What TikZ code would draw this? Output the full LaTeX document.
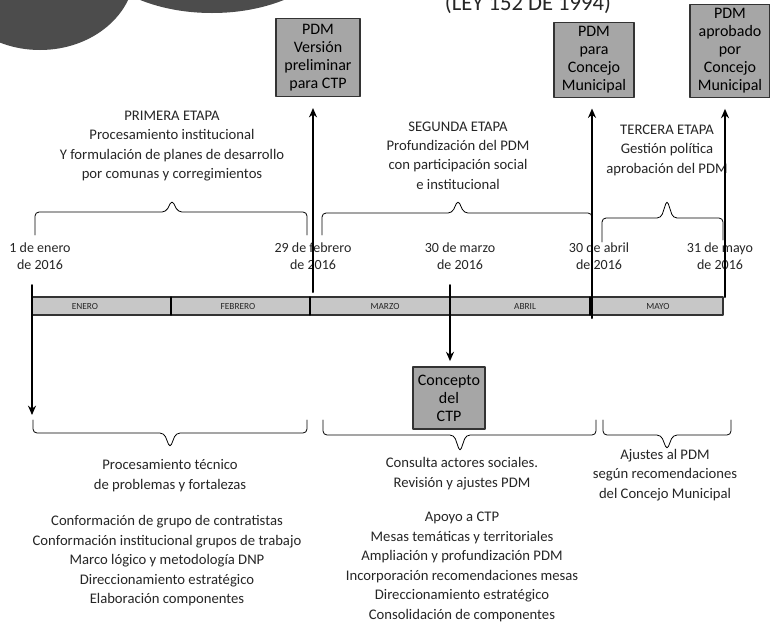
\documentclass[tikz,border=0pt]{standalone}
\usepackage{fontspec}
\setmainfont{Carlito}
\usetikzlibrary{arrows.meta}

\begin{document}
\begin{tikzpicture}[x=0.75pt,y=-0.75pt,>=Stealth,line cap=round,line join=round,
  caja/.style={draw=black!80,fill=black!35,line width=0.8pt,inner sep=0pt,align=center,
    font=\fontsize{12}{13.5}\selectfont},
  etapa/.style={align=center,text=black!85,font=\fontsize{11}{14.6}\selectfont},
  fecha/.style={align=center,text=black!85,font=\fontsize{10.5}{12.75}\selectfont},
  mes/.style={text=black!85,font=\fontsize{7}{8}\selectfont},
  llave/.style={line width=0.6pt,rounded corners=3pt},
  flecha/.style={line width=1.5pt,-{Stealth[length=7pt,width=6pt]}}]
  \useasboundingbox (0,0) rectangle (770,636);
  \clip (0,0) rectangle (770,636);
  \fill[white] (0,0) rectangle (770,636);

  % Manchas oscuras arriba (recortadas)
  \fill[black!70] (40,-30) ellipse [x radius=71.25pt, y radius=60pt];
  \fill[black!70] (212,-60) ellipse [x radius=94.5pt, y radius=54.75pt];
  \node[anchor=base,text=black!85,font=\fontsize{17}{19}\selectfont] (ley) at (528,10) {(LEY 152 DE 1994)};

  % Cajas de productos
  \node[caja,minimum width=63pt,minimum height=59pt] (pdmprelim) at (318,57.5) {PDM\\Versión\\preliminar\\para CTP};
  \node[caja,minimum width=60pt,minimum height=56pt] (pdmconcejo) at (594,60) {PDM\\para\\Concejo\\Municipal};
  \node[caja,minimum width=60pt,minimum height=70pt] (pdmaprob) at (730,51) {PDM\\aprobado\\por\\Concejo\\Municipal};
  \node[caja,minimum width=54pt,minimum height=46.5pt] (concepto) at (449,398) {Concepto\\del\\CTP};

  % Etapas
  \node[etapa] (primera) at (172,146) {PRIMERA ETAPA\\Procesamiento institucional\\Y formulación de planes de desarrollo\\por comunas y corregimientos};
  \node[etapa] (segunda) at (458,155.5) {SEGUNDA ETAPA\\Profundización del PDM\\con participación social\\e institucional};
  \node[etapa] (tercera) at (667,150) {TERCERA ETAPA\\Gestión política\\aprobación del PDM};

  % Llaves superiores
  \draw[llave] (35,235) -- (35,212) -- (166,212) -- (172,200) -- (178,212) -- (307,212) -- (307,235);
  \draw[llave] (322,235) -- (322,213) -- (452,213) -- (458,200) -- (464,213) -- (592,213) -- (592,235);
  \draw[llave] (602,242) -- (602,218) -- (661,218) -- (667,200) -- (673,218) -- (723,218) -- (723,240);

  % Fechas
  \node[fecha] (fene) at (40,256.5) {1 de enero\\de 2016};
  \node[fecha] (ffeb) at (313,256.5) {29 de febrero\\de 2016};
  \node[fecha] (fmar) at (460,256.5) {30 de marzo\\de 2016};
  \node[fecha] (fabr) at (599,256.5) {30 de abril\\de 2016};
  \node[fecha] (fmay) at (720,256.5) {31 de mayo\\de 2016};

  % Barra de meses
  \draw[fill=black!22,draw=black!80,line width=0.8pt] (32,297) rectangle (723,315);
  \draw[line width=0.8pt] (171,297) -- (171,315);
  \draw[line width=0.8pt] (310,297) -- (310,315);
  \draw[line width=0.8pt] (590,297) -- (590,315);
  \node[mes] (enero) at (85,306) {ENERO};
  \node[mes] (febrero) at (238,306) {FEBRERO};
  \node[mes] (marzo) at (385,306) {MARZO};
  \node[mes] (abril) at (525,306) {ABRIL};
  \node[mes] (mayo) at (658,306) {MAYO};

  % Lineas de fechas y flechas
  \coordinate (ene) at (32,285);
  \coordinate (enefin) at (32,415);
  \coordinate (feb) at (313,292);
  \coordinate (mar) at (450,285);
  \coordinate (abr) at (592,318);
  \coordinate (may) at (725,297);
  \draw[flecha] (ene) -- (enefin);
  \draw[flecha,shorten >=8pt] (feb) -- (feb |- pdmprelim.south);
  \draw[flecha,shorten >=4pt] (mar) -- (mar |- concepto.north);
  \draw[flecha,shorten >=8pt] (abr) -- (abr |- pdmconcejo.south);
  \draw[flecha,shorten >=8pt] (may) -- (may |- pdmaprob.south);

  % Llaves inferiores
  \draw[llave] (33,420) -- (33,433) -- (164,433) -- (170,448) -- (176,433) -- (307,433) -- (307,420);
  \draw[llave] (323,420) -- (323,435) -- (454,435) -- (460,452) -- (466,435) -- (596,435) -- (596,420);
  \draw[llave] (603,420) -- (603,435) -- (661,435) -- (667,450) -- (673,435) -- (731,435) -- (731,420);

  % Textos inferiores
  \node[etapa] (tecnico) at (170,475.5) {Procesamiento técnico\\de problemas y fortalezas};
  \node[etapa] (consulta) at (462,473.5) {Consulta actores sociales.\\Revisión y ajustes PDM};
  \node[etapa] (ajustes) at (665,475) {Ajustes al PDM\\según recomendaciones\\del Concejo Municipal};
  \node[etapa] (lista1) at (167,561) {Conformación de grupo de contratistas\\Conformación institucional grupos de trabajo\\Marco lógico y metodología DNP\\Direccionamiento estratégico\\Elaboración componentes};
  \node[etapa] (lista2) at (462,567) {Apoyo a CTP\\Mesas temáticas y territoriales\\Ampliación y profundización PDM\\Incorporación recomendaciones mesas\\Direccionamiento estratégico\\Consolidación de componentes};
\end{tikzpicture}
\end{document}
